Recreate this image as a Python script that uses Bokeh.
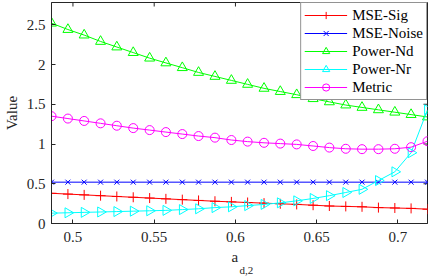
from bokeh.plotting import figure
from bokeh.models import Range1d, FixedTicker, Title
from bokeh.embed import file_html
from bokeh.resources import INLINE
import math

x_vals = [0.4868, 0.4969, 0.5069, 0.5170, 0.5270, 0.5371, 0.5472, 0.5572,
          0.5673, 0.5773, 0.5874, 0.5975, 0.6075, 0.6176, 0.6276, 0.6377,
          0.6478, 0.6578, 0.6679, 0.6779, 0.6880, 0.6981, 0.7081, 0.7182]

mse_sig = [0.38, 0.37, 0.36, 0.35, 0.34, 0.33, 0.32, 0.31, 0.30, 0.29, 0.28, 0.272,
           0.264, 0.256, 0.248, 0.24, 0.23, 0.22, 0.215, 0.21, 0.20, 0.195, 0.19, 0.18]
mse_noise = [0.52] * 24
power_nd = [2.52, 2.44, 2.37, 2.29, 2.22, 2.15, 2.08, 2.02, 1.96, 1.90, 1.85, 1.80,
            1.75, 1.70, 1.66, 1.62, 1.57, 1.53, 1.49, 1.46, 1.43, 1.40, 1.37, 1.34]
power_nr = [0.13, 0.135, 0.14, 0.145, 0.15, 0.155, 0.16, 0.165, 0.175, 0.185, 0.20, 0.21,
            0.225, 0.24, 0.26, 0.285, 0.315, 0.35, 0.39, 0.43, 0.54, 0.65, 0.89, 1.43]
metric = [1.35, 1.32, 1.29, 1.26, 1.23, 1.20, 1.175, 1.15, 1.125, 1.10, 1.08, 1.05,
          1.03, 1.015, 1.005, 0.995, 0.975, 0.955, 0.94, 0.935, 0.935, 0.94, 0.96, 1.035]

x_ticks = [0.5, 0.55, 0.6, 0.65, 0.7]
y_ticks = [0, 0.5, 1, 1.5, 2, 2.5]
x_lo, x_hi = 0.4868, 0.7182
y_lo, y_hi = 0.0, 2.78

FONT = "Liberation Serif, Times New Roman, serif"
AX = "#262626"

p = figure(width=435, height=276, output_backend="svg", toolbar_location=None,
           x_range=Range1d(x_lo, x_hi), y_range=Range1d(y_lo, y_hi),
           min_border_left=45, min_border_right=8, min_border_top=2, min_border_bottom=53)
p.grid.visible = False
p.outline_line_color = AX
p.outline_line_width = 1

for ax in p.xaxis + p.yaxis:
    ax.major_tick_in = 4
    ax.major_tick_out = 0
    ax.minor_tick_in = 0
    ax.minor_tick_out = 0
    ax.axis_line_color = AX
    ax.major_tick_line_color = AX
    ax.major_label_text_font = FONT
    ax.major_label_text_font_size = "15px"
    ax.major_label_text_color = AX
    ax.axis_label_text_font = FONT
    ax.axis_label_text_font_size = "15px"
    ax.axis_label_text_font_style = "normal"
    ax.axis_label_text_color = AX

p.xaxis.ticker = FixedTicker(ticks=x_ticks)
p.yaxis.ticker = FixedTicker(ticks=y_ticks)
p.xaxis.major_label_standoff = 8
p.yaxis.major_label_standoff = 6
p.yaxis.axis_label = "Value"
p.yaxis.axis_label_standoff = 4

# mirrored inward ticks on top and right edges
p.ray(x=x_ticks, y=[y_hi] * len(x_ticks), length=4, length_units="screen",
      angle=-math.pi / 2, line_color=AX, line_width=1)
p.ray(x=[x_hi] * len(y_ticks), y=y_ticks, length=4, length_units="screen",
      angle=math.pi, line_color=AX, line_width=1)

series = [
    ("MSE-Sig", mse_sig, "#FF0000", "cross", 10, 0),
    ("MSE-Noise", mse_noise, "#0000FF", "x", 7, 0),
    ("Power-Nd", power_nd, "#00FF00", "triangle", 10, 0),
    ("Power-Nr", power_nr, "#00FFFF", "triangle", 10, -math.pi / 2),
    ("Metric", metric, "#FF00FF", "circle", 9, 0),
]
for name, ys, col, mk, sz, ang in series:
    p.line(x_vals, ys, line_color=col, line_width=1, legend_label=name)
    p.scatter(x_vals, ys, marker=mk, size=sz, angle=ang, line_color=col, line_width=1,
              fill_color=None, legend_label=name)

lg = p.legend[0]
lg.location = "top_right"
lg.margin = 0
lg.padding = 3
lg.spacing = 0
lg.label_height = 18
lg.glyph_height = 18
lg.glyph_width = 43
lg.label_standoff = 5
lg.label_text_font = FONT
lg.label_text_font_size = "15px"
lg.label_text_color = "#000000"
lg.border_line_color = AX
lg.border_line_width = 1
lg.background_fill_alpha = 1

# x-axis label a_{d,2} built from two titles
t1 = Title(text="a", align="left", offset=180, standoff=5, text_font=FONT,
           text_font_size="15px", text_font_style="normal", text_color=AX)
t2 = Title(text="d,2", align="left", offset=188, standoff=-11, text_font=FONT,
           text_font_size="11px", text_font_style="normal", text_color=AX)
p.add_layout(t1, "below")
p.add_layout(t2, "below")

open("out.html", "w").write(file_html(p, INLINE))
